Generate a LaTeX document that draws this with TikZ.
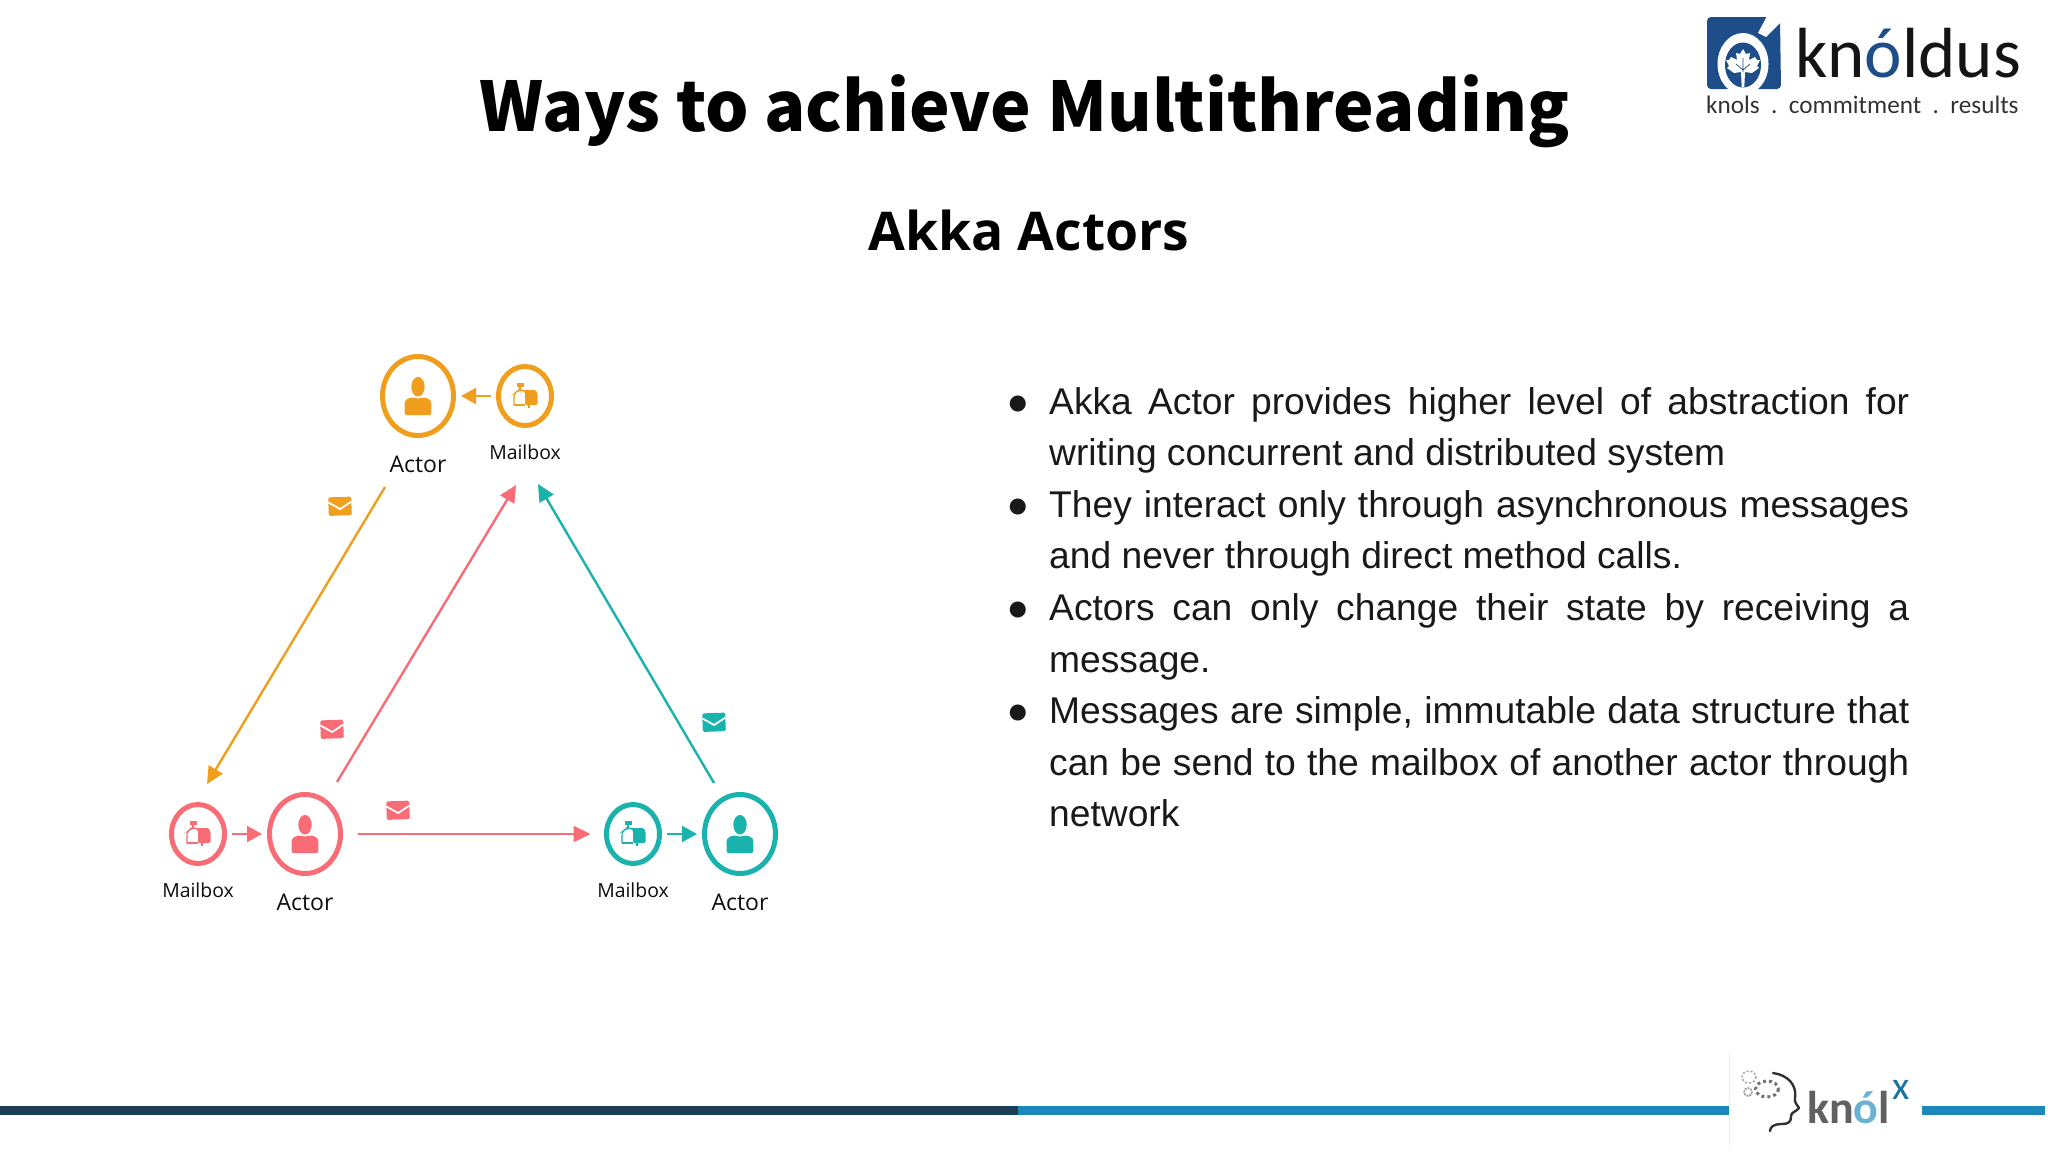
\documentclass[tikz,border=0pt]{standalone}
\usepackage{fontspec}
\setmainfont{Liberation Sans}
\newfontfamily\titlefont{Noto Sans CJK JP}
\newfontfamily\subfont{Open Sans}
\newfontfamily\logofont{Carlito}
\usetikzlibrary{arrows.meta,shapes.geometric}
\definecolor{cOrange}{HTML}{F09E1E}
\definecolor{cSalmon}{HTML}{F76C75}
\definecolor{cTeal}{HTML}{1AB2AC}
\definecolor{cLogo}{HTML}{1D4E89}
\definecolor{cNavy}{HTML}{1C3F55}
\definecolor{cBar}{HTML}{1B87BB}
\newcommand{\fs}[1]{\fontsize{#1}{#1}\selectfont}
\tikzset{
  actorring/.style={ellipse,draw=#1,line width=5pt,minimum width=71pt,minimum height=79pt,inner sep=0pt,outer sep=0pt},
  mailring/.style={ellipse,draw=#1,line width=5pt,minimum width=53pt,minimum height=59pt,inner sep=0pt,outer sep=0pt},
  lab/.style={anchor=base,inner sep=0pt,text=black!95,font=\subfont},
  flow/.style={draw=#1,line width=2.4pt,-{Triangle[length=17pt,width=16pt,fill=#1]}},
  shortflow/.style={draw=#1,line width=2pt,shorten <=7.5pt,shorten >=7.5pt,-{Triangle[length=15pt,width=16pt,fill=#1]}},
  pics/person/.style={code={
    \fill[#1] (0,-9.3) ellipse (6.7 and 9.8);
    \fill[#1,rounded corners=2pt] (-13.3,19) -- (-13.3,9) .. controls (-13.3,3) and (-8,2) .. (-5,1) .. controls (-2,2.5) and (2,2.5) .. (5,1) .. controls (8,2) and (13.3,3) .. (13.3,9) -- (13.3,19) -- cycle;
  }},
  pics/mailicon/.style={code={
    \fill[#1] (-8.5,-13) rectangle (-1.5,-9);
    \draw[#1,line width=1.2pt] (-5,-9) -- (-5,-5);
    \draw[#1,line width=1.2pt,rounded corners=3pt] (-11,9) -- (-11,-2) -- (-7,-5.5) -- (-1,-5.5);
    \draw[#1,line width=1.2pt] (-11,9) -- (0,9);
    \fill[#1,rounded corners=1.5pt] (-4,-6) -- (8,-6) .. controls (11,-6) and (12.5,-3) .. (12.5,0) -- (12.5,9) -- (0,9) -- (0,-1) .. controls (0,-4) and (-2,-5) .. (-4,-6) -- cycle;
    \fill[#1] (2.5,9) rectangle (4.5,12);
  }},
  pics/envelope/.style={code={
    \fill[#1,rounded corners=1.5pt] (-11.5,-9) rectangle (11.5,9.5);
    \draw[white,line width=1.8pt] (-11.5,-4) -- (0,3) -- (11.5,-4);
  }}
}
\begin{document}
\begin{tikzpicture}[x=1pt,y=-1pt]
\useasboundingbox (0,0) rectangle (2048,1152);
\fill[white] (0,0) rectangle (2048,1152);

% titles
\node[anchor=base,inner sep=0pt] (title) at (1024.5,131.5) {\titlefont\bfseries\fs{68.5}Ways to achieve Multithreading};
\node[anchor=base,inner sep=0pt] (subtitle) at (1029,250) {\subfont\bfseries\fs{53.4}Akka Actors};

% actors and mailboxes
\node[actorring=cOrange] (aO) at (418,396) {};
\node[mailring=cOrange] (mO) at (525,396) {};
\node[actorring=cSalmon] (aS) at (305,834) {};
\node[mailring=cSalmon] (mS) at (198,834) {};
\node[actorring=cTeal] (aT) at (740,834) {};
\node[mailring=cTeal] (mT) at (633,834) {};

\pic at (aO.center) {person=cOrange};
\pic at (aS.center) {person=cSalmon};
\pic at (aT.center) {person=cTeal};
\pic at (mO.center) {mailicon=cOrange};
\pic at (mS.center) {mailicon=cSalmon};
\pic at (mT.center) {mailicon=cTeal};

\node[lab] (lAO) at (418,472) {\fs{23}Actor};
\node[lab] (lMO) at (525,459) {\fs{19.4}Mailbox};
\node[lab] (lAS) at (305,910) {\fs{23}Actor};
\node[lab] (lMS) at (198,897) {\fs{19.4}Mailbox};
\node[lab] (lAT) at (740,910) {\fs{23}Actor};
\node[lab] (lMT) at (633,897) {\fs{19.4}Mailbox};

% connectors
\draw[shortflow=cOrange] (mO) -- (aO);
\draw[shortflow=cSalmon] (mS) -- (aS);
\draw[shortflow=cTeal] (mT) -- (aT);
\draw[flow=cSalmon,shorten <=17pt,shorten >=16pt] (aS) -- (mT);

\coordinate (oStart) at (385,487);
\coordinate (oEnd) at (207,784);
\coordinate (sStart) at (337,782);
\coordinate (sEnd) at (516,485);
\coordinate (tStart) at (714,783);
\coordinate (tEnd) at (538,484);
\draw[flow=cOrange] (oStart) -- (oEnd);
\draw[flow=cSalmon] (sStart) -- (sEnd);
\draw[flow=cTeal] (tStart) -- (tEnd);

% message icons
\pic[rotate=2] at (340,506) {envelope=cOrange};
\pic[rotate=2] at (332,729) {envelope=cSalmon};
\pic[rotate=2] at (398,810) {envelope=cSalmon};
\pic[rotate=2] at (714,722) {envelope=cTeal};

% body text
\node[anchor=north west,inner sep=0pt,text width=860pt,align=justify,text=black!90] (body) at (1049,387) {%
\fontsize{37.2}{51.6}\selectfont
\newcommand{\bul}{\noindent\llap{●\hskip 20pt}}%
\bul Akka Actor provides higher level of abstraction for\linebreak writing concurrent and distributed system\par
\bul They interact only through asynchronous messages\linebreak and never through direct method calls.\par
\bul Actors can only change their state by receiving a\linebreak message.\par
\bul Messages are simple, immutable data structure that\linebreak can be send to the mailbox of another actor through\linebreak network\par};

% bottom bar
\fill[cNavy] (0,1106) rectangle (1018,1115);
\fill[cBar] (1018,1106) rectangle (1729,1115);
\fill[cBar] (1922,1106) rectangle (2045,1115);
\draw[black!6,line width=0.7pt] (1729,1052) -- (1729,1150);

% knolx logo
\draw[black!80,line width=2.4pt,line cap=round,line join=round]
  (1773,1073) .. controls (1788,1075) and (1797,1085) .. (1795,1098)
  .. controls (1794,1102) and (1797,1105) .. (1799,1108)
  .. controls (1796,1112) and (1791,1112) .. (1791,1116)
  .. controls (1791,1122) and (1789,1124) .. (1781,1124)
  .. controls (1774,1124) and (1770,1127) .. (1770,1131);
\draw[black!55,line width=3pt,dash pattern=on 3pt off 3pt] (1767,1089) ellipse (11.5 and 8);
\draw[black!35,line width=1.6pt,dash pattern=on 2pt off 2pt] (1749,1077) ellipse (7 and 6);
\draw[black!40,line width=1.6pt,dash pattern=on 2pt off 1pt] (1748,1092) circle (4);
\node[anchor=base west,inner sep=0pt] (knolx) at (1807,1123) {\logofont\bfseries\fs{46}\textcolor{black!62}{kn}\textcolor{cBar!65!white}{ó}\textcolor{black!62}{l}};
\node[anchor=base west,inner sep=0pt,text=cBar!85!black] (knolxx) at (1892,1099) {\logofont\fs{40}x};

% knoldus logo
\fill[cLogo,rounded corners=4pt] (1707,17) -- (1768,17) -- (1780,20) -- (1781,89) -- (1707,89) -- cycle;
\begin{scope}
\clip (1707,17) rectangle (1781,89);
\fill[white] (1743,64) ellipse (25.5 and 31);
\end{scope}
\fill[white] (1758,33) -- (1767,16) -- (1782,16) -- (1782,21) -- (1766,37) -- cycle;
\fill[cLogo] (1743,65) ellipse (18 and 22.5);
\fill[white] (1743,49) -- (1746,54) -- (1750,53) -- (1749,60) -- (1755,57) -- (1757,60) -- (1760,60) -- (1757,66) -- (1759,68) -- (1752,73) -- (1745,72) -- (1744.3,87) -- (1741.7,87) -- (1741,72) -- (1734,73) -- (1727,68) -- (1729,66) -- (1726,60) -- (1729,60) -- (1731,57) -- (1737,60) -- (1736,53) -- (1740,54) -- cycle;
\draw[cLogo,line width=0.7pt] (1743,72) -- (1743,58) (1743,70) -- (1736,64) (1743,70) -- (1750,64);
\node[anchor=base west,inner sep=0pt] (knoldus) at (1795,77) {\logofont\fs{71}\textcolor{black!92}{kn}\textcolor{cLogo}{ó}\textcolor{black!92}{ldus}};
\node[anchor=base west,inner sep=0pt,text=black!80] (tagline) at (1706,113) {\logofont\fs{25.2}knols\ \ .\ \ commitment\ \ .\ \ results};
\end{tikzpicture}
\end{document}
